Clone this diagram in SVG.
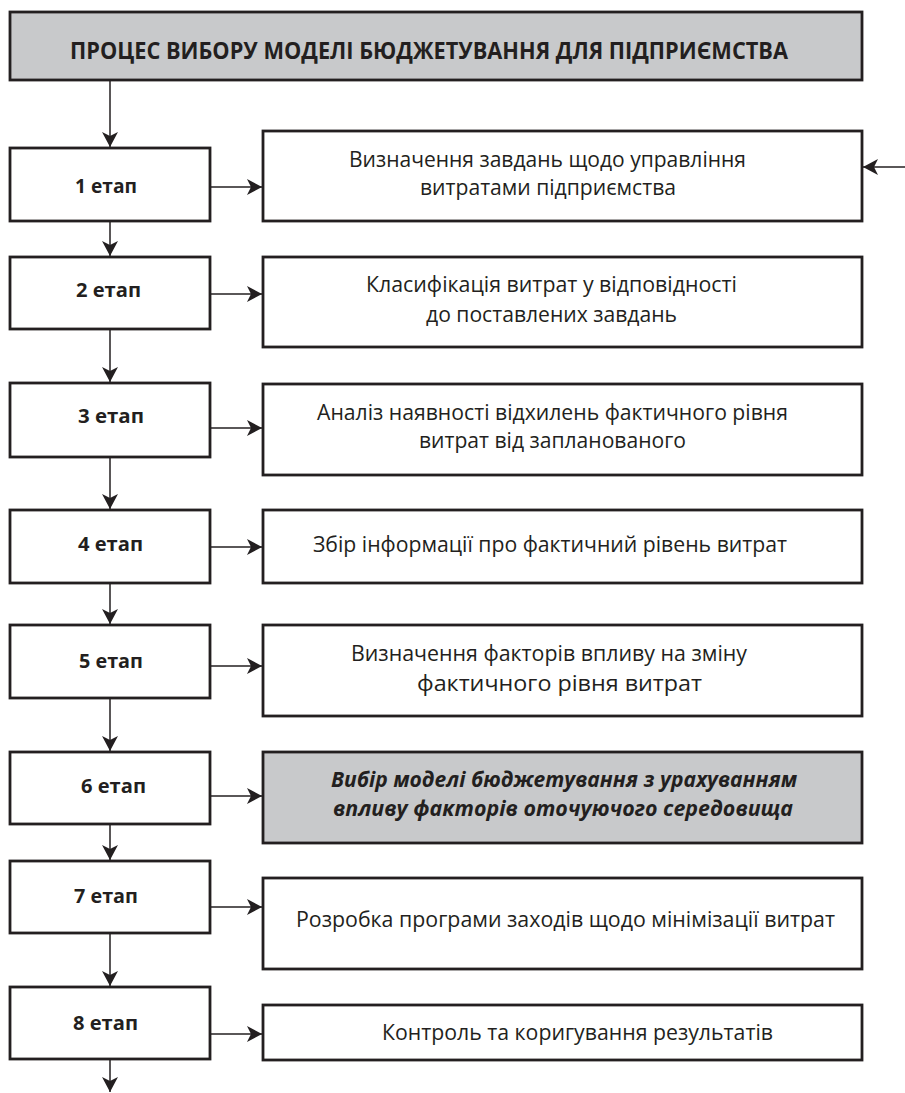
<svg xmlns="http://www.w3.org/2000/svg" width="905" height="1093" viewBox="0 0 905 1093">
<defs>
<marker id="ah" viewBox="0 0 16 16" refX="15" refY="8" markerWidth="16" markerHeight="16" markerUnits="userSpaceOnUse" orient="auto">
<path d="M0,0 L15,8 L0,16 L4,8 Z" fill="#231f20"/>
</marker>
<style>
.box{fill:#fff;stroke:#231f20;stroke-width:2.8}
.gray{fill:#c8c9cb}
.lbl{font-family:"Open Sans","Liberation Sans",sans-serif;font-weight:bold;font-size:20px;fill:#231f20}
.txt{font-family:"Open Sans","Liberation Sans",sans-serif;font-size:22px;fill:#231f20}
.it{font-family:"Open Sans","Liberation Sans",sans-serif;font-size:22px;font-weight:bold;font-style:italic;fill:#231f20}
.ttl{font-family:"Open Sans","Liberation Sans",sans-serif;font-size:23px;font-weight:bold;fill:#231f20}
.con{stroke:#231f20;stroke-width:1.5;fill:none;marker-end:url(#ah)}
</style>
</defs>
<rect width="905" height="1093" fill="#fff"/>

<g id="title">
<rect class="box gray" x="10" y="12" width="852" height="68"/>
<text class="ttl" x="429" y="59" text-anchor="middle" textLength="718" lengthAdjust="spacingAndGlyphs">ПРОЦЕС ВИБОРУ МОДЕЛІ БЮДЖЕТУВАННЯ ДЛЯ ПІДПРИЄМСТВА</text>
</g>

<g id="stage1"><rect class="box" x="10" y="148" width="200" height="73"/><text class="lbl" x="75" y="193" textLength="62" lengthAdjust="spacingAndGlyphs">1 етап</text></g>
<g id="stage2"><rect class="box" x="10" y="257" width="200" height="72"/><text class="lbl" x="76" y="297" textLength="65" lengthAdjust="spacingAndGlyphs">2 етап</text></g>
<g id="stage3"><rect class="box" x="10" y="383" width="200" height="74"/><text class="lbl" x="78" y="423" textLength="66" lengthAdjust="spacingAndGlyphs">3 етап</text></g>
<g id="stage4"><rect class="box" x="10" y="510" width="200" height="73"/><text class="lbl" x="78" y="551" textLength="65" lengthAdjust="spacingAndGlyphs">4 етап</text></g>
<g id="stage5"><rect class="box" x="10" y="625" width="200" height="73"/><text class="lbl" x="79" y="668" textLength="64" lengthAdjust="spacingAndGlyphs">5 етап</text></g>
<g id="stage6"><rect class="box" x="10" y="752" width="200" height="72"/><text class="lbl" x="81" y="793" textLength="65" lengthAdjust="spacingAndGlyphs">6 етап</text></g>
<g id="stage7"><rect class="box" x="10" y="861" width="200" height="72"/><text class="lbl" x="74" y="903" textLength="64" lengthAdjust="spacingAndGlyphs">7 етап</text></g>
<g id="stage8"><rect class="box" x="10" y="987" width="200" height="72"/><text class="lbl" x="73" y="1030" textLength="65" lengthAdjust="spacingAndGlyphs">8 етап</text></g>

<g id="task1"><rect class="box" x="263" y="131" width="599" height="90"/>
<text class="txt" x="349" y="167" textLength="397" lengthAdjust="spacingAndGlyphs">Визначення завдань щодо управління</text>
<text class="txt" x="420" y="195" textLength="256" lengthAdjust="spacingAndGlyphs">витратами підприємства</text></g>
<g id="task2"><rect class="box" x="263" y="257" width="599" height="90"/>
<text class="txt" x="366" y="292" textLength="371" lengthAdjust="spacingAndGlyphs">Класифікація витрат у відповідності</text>
<text class="txt" x="426" y="322" textLength="251" lengthAdjust="spacingAndGlyphs">до поставлених завдань</text></g>
<g id="task3"><rect class="box" x="263" y="384" width="599" height="91"/>
<text class="txt" x="317" y="420" textLength="471" lengthAdjust="spacingAndGlyphs">Аналіз наявності відхилень фактичного рівня</text>
<text class="txt" x="419" y="448" textLength="267" lengthAdjust="spacingAndGlyphs">витрат від запланованого</text></g>
<g id="task4"><rect class="box" x="263" y="510" width="599" height="73"/>
<text class="txt" x="313" y="552" textLength="474" lengthAdjust="spacingAndGlyphs">Збір інформації про фактичний рівень витрат</text></g>
<g id="task5"><rect class="box" x="263" y="625" width="599" height="91"/>
<text class="txt" x="351" y="661" textLength="396" lengthAdjust="spacingAndGlyphs">Визначення факторів впливу на зміну</text>
<text class="txt" x="417" y="691" textLength="285" lengthAdjust="spacingAndGlyphs">фактичного рівня витрат</text></g>
<g id="task6"><rect class="box gray" x="263" y="752" width="599" height="91"/>
<text class="it" x="331" y="787" textLength="466" lengthAdjust="spacingAndGlyphs">Вибір моделі бюджетування з урахуванням</text>
<text class="it" x="333" y="816" textLength="460" lengthAdjust="spacingAndGlyphs">впливу факторів оточуючого середовища</text></g>
<g id="task7"><rect class="box" x="263" y="878" width="599" height="91"/>
<text class="txt" x="296" y="927" textLength="539" lengthAdjust="spacingAndGlyphs">Розробка програми заходів щодо мінімізації витрат</text></g>
<g id="task8"><rect class="box" x="263" y="1005" width="599" height="55"/>
<text class="txt" x="382" y="1040" textLength="391" lengthAdjust="spacingAndGlyphs">Контроль та коригування результатів</text></g>

<g id="connectors">
<line class="con" x1="110" y1="81" x2="110" y2="147"/>
<line class="con" x1="110" y1="222" x2="110" y2="256"/>
<line class="con" x1="110" y1="330" x2="110" y2="382"/>
<line class="con" x1="110" y1="458" x2="110" y2="509"/>
<line class="con" x1="110" y1="584" x2="110" y2="624"/>
<line class="con" x1="110" y1="699" x2="110" y2="751"/>
<line class="con" x1="110" y1="825" x2="110" y2="860"/>
<line class="con" x1="110" y1="934" x2="110" y2="986"/>
<line class="con" x1="110" y1="1060" x2="110" y2="1092"/>
<line class="con" x1="211" y1="187" x2="262" y2="187"/>
<line class="con" x1="211" y1="294" x2="262" y2="294"/>
<line class="con" x1="211" y1="428" x2="262" y2="428"/>
<line class="con" x1="211" y1="547" x2="262" y2="547"/>
<line class="con" x1="211" y1="666" x2="262" y2="666"/>
<line class="con" x1="211" y1="796" x2="262" y2="796"/>
<line class="con" x1="211" y1="907" x2="262" y2="907"/>
<line class="con" x1="211" y1="1034" x2="262" y2="1034"/>
<line class="con" x1="905" y1="167" x2="863" y2="167"/>
</g>
</svg>
